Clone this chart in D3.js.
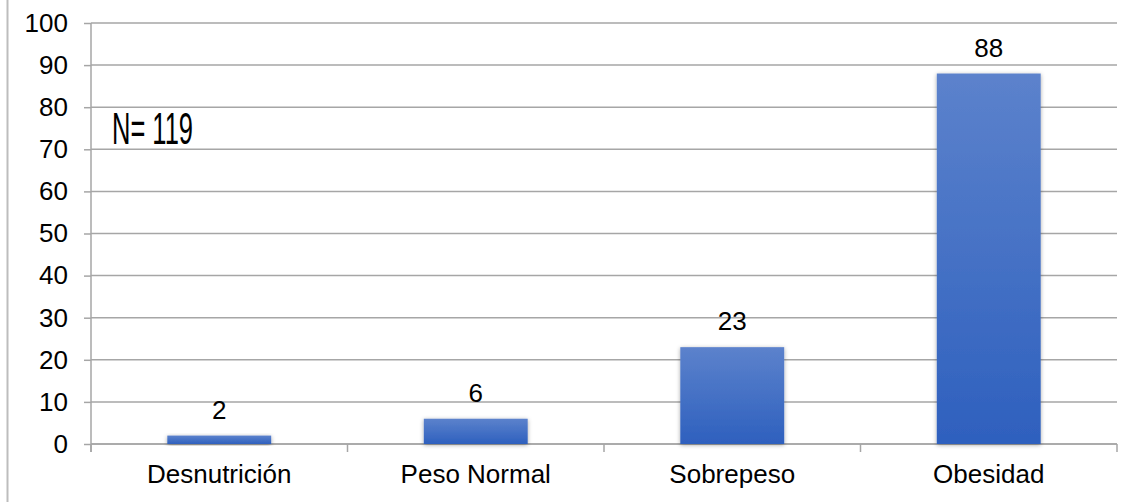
<!DOCTYPE html>
<html>
<head>
<meta charset="utf-8">
<script src="https://cdn.jsdelivr.net/npm/d3@7"></script>
<style>
  html, body { margin: 0; padding: 0; background: #fff; }
  svg { display: block; }
  text { font-family: "Liberation Sans", Arial, sans-serif; fill: #000; }
</style>
</head>
<body>
<svg id="chart" width="1133" height="502"></svg>
<script>
// Nutritional status counts
const categories = ["Desnutrición", "Peso Normal", "Sobrepeso", "Obesidad"];
const counts = [2, 6, 23, 88];
const yTicks = [0, 10, 20, 30, 40, 50, 60, 70, 80, 90, 100];
const sampleNote = "N= 119";

const W = 1133, H = 502;
const margin = { left: 91, right: 16, top: 23, bottom: 58 };
const svg = d3.select("#chart");

const x = d3.scaleBand()
  .domain(categories)
  .range([margin.left, W - margin.right])
  .paddingInner(0.595)
  .paddingOuter(0.2975);

const y = d3.scaleLinear()
  .domain([0, 100])
  .range([H - margin.bottom, margin.top]);

const gridColor = "#a6a6a6";

// frame line on the left edge
svg.append("line")
  .attr("x1", 7.5).attr("x2", 7.5)
  .attr("y1", 0).attr("y2", H)
  .attr("stroke", "#bdbdbd").attr("stroke-width", 2);

const defs = svg.append("defs");
const grad = defs.append("linearGradient")
  .attr("id", "barFill").attr("x1", 0).attr("y1", 0).attr("x2", 0).attr("y2", 1);
grad.append("stop").attr("offset", "0%").attr("stop-color", "#5c82cc");
grad.append("stop").attr("offset", "100%").attr("stop-color", "#2e60be");

const shadow = defs.append("filter").attr("id", "barShadow")
  .attr("x", "-20%").attr("y", "-20%").attr("width", "140%").attr("height", "140%");
shadow.append("feDropShadow")
  .attr("dx", 0).attr("dy", 1).attr("stdDeviation", 2)
  .attr("flood-color", "#000").attr("flood-opacity", 0.35);

// horizontal gridlines
svg.append("g")
  .selectAll("line")
  .data(yTicks)
  .join("line")
  .attr("x1", margin.left).attr("x2", W - margin.right)
  .attr("y1", d => y(d)).attr("y2", d => y(d))
  .attr("stroke", gridColor).attr("stroke-width", 1.5);

// y axis
const yAxis = svg.append("g")
  .attr("transform", `translate(${margin.left},0)`)
  .call(d3.axisLeft(y).tickValues(yTicks).tickSize(7).tickPadding(16));
yAxis.select(".domain")
  .attr("stroke", gridColor).attr("stroke-width", 1.5)
  .attr("d", `M0,${y(100)}V${y(0) + 8}`);
yAxis.selectAll(".tick line").attr("stroke", gridColor).attr("stroke-width", 1.5);
yAxis.selectAll(".tick text")
  .attr("font-size", 26)
  .attr("fill", "#000");

// x axis baseline and category separators
const xAxisG = svg.append("g");
xAxisG.append("line")
  .attr("x1", margin.left).attr("x2", W - margin.right)
  .attr("y1", y(0)).attr("y2", y(0))
  .attr("stroke", gridColor).attr("stroke-width", 1.5);
const boundaries = d3.range(categories.length + 1).map(i => margin.left + i * (W - margin.left - margin.right) / categories.length);
xAxisG.selectAll("line.sep")
  .data(boundaries)
  .join("line")
  .attr("class", "sep")
  .attr("x1", d => d).attr("x2", d => d)
  .attr("y1", y(0)).attr("y2", y(0) + 8)
  .attr("stroke", gridColor).attr("stroke-width", 1.5);

xAxisG.selectAll("text")
  .data(categories)
  .join("text")
  .attr("x", d => x(d) + x.bandwidth() / 2)
  .attr("y", 483)
  .attr("text-anchor", "middle")
  .attr("font-size", 26)
  .text(d => d);

// bars
const data = categories.map((c, i) => ({ cat: c, value: counts[i] }));
svg.append("g")
  .selectAll("rect")
  .data(data)
  .join("rect")
  .attr("x", d => x(d.cat))
  .attr("width", x.bandwidth())
  .attr("y", d => y(d.value))
  .attr("height", d => y(0) - y(d.value))
  .attr("fill", "url(#barFill)")
  .attr("filter", "url(#barShadow)");

// value labels
svg.append("g")
  .selectAll("text")
  .data(data)
  .join("text")
  .attr("x", d => x(d.cat) + x.bandwidth() / 2)
  .attr("y", d => y(d.value) - 17)
  .attr("text-anchor", "middle")
  .attr("font-size", 26)
  .text(d => d.value);

// sample size note
svg.append("text")
  .attr("x", 112)
  .attr("y", 144)
  .attr("font-size", 44)
  .attr("textLength", 81)
  .attr("lengthAdjust", "spacingAndGlyphs")
  .text(sampleNote);
</script>
</body>
</html>
